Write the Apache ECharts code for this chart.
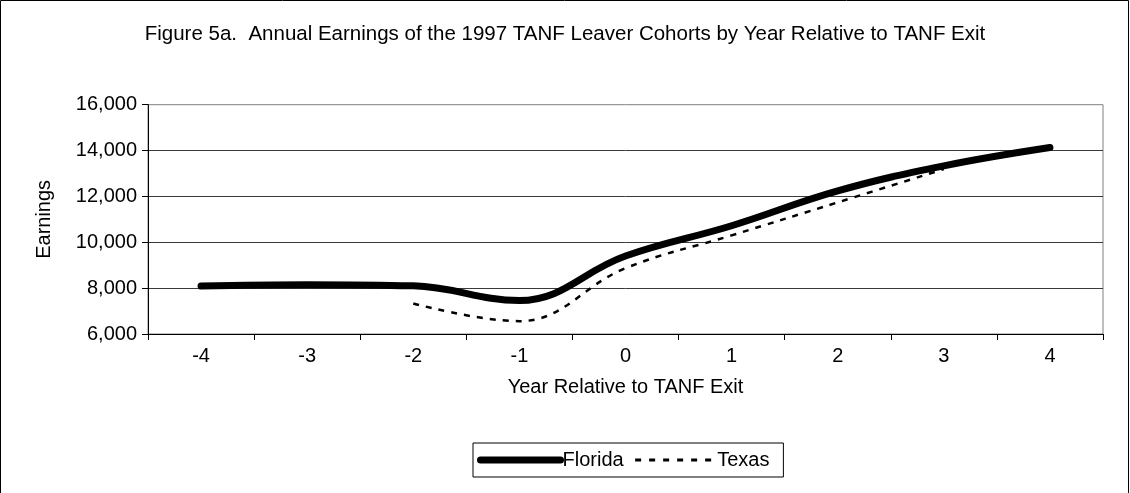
<!DOCTYPE html>
<html>
<head>
<meta charset="utf-8">
<script src="https://cdn.jsdelivr.net/npm/echarts@6/dist/echarts.min.js"></script>
<style>
  html, body { margin: 0; padding: 0; background: #fff; }
  #chart { width: 1130px; height: 493px; }
</style>
</head>
<body>
<div id="chart"></div>
<script>
//数据
var years = ['-4', '-3', '-2', '-1', '0', '1', '2', '3', '4'];
var florida = [8090, 8150, 8100, 7460, 9400, 10720, 12240, 13330, 14130];
var texas = [null, null, 7330, 6560, 8870, 10300, 11740, 13190, null];
var yTicks = [6000, 8000, 10000, 12000, 14000, 16000];

var font = 'Arial, "Liberation Sans", sans-serif';
var fs = 20;

var chart = echarts.init(document.getElementById('chart'));
var option = {
    backgroundColor: '#fff',
    animation: false,
    textStyle: { fontFamily: font, color: '#000' },
    title: {
        text: 'Figure 5a.  Annual Earnings of the 1997 TANF Leaver Cohorts by Year Relative to TANF Exit',
        left: 'center',
        top: 19,
        textStyle: { fontSize: 20.5, fontWeight: 'normal', color: '#000', fontFamily: font }
    },
    graphic: [{
        type: 'rect',
        shape: { x: 0.5, y: 0.5, width: 1128, height: 520 },
        style: { fill: 'none', stroke: '#000', lineWidth: 1 },
        silent: true
    }],
    legend: {
        left: 473,
        top: 443,
        padding: [7, 14, 7, 4],
        itemGap: 10,
        itemWidth: 80,
        itemHeight: 21,
        borderColor: '#000',
        borderWidth: 1,
        itemStyle: { opacity: 0 },
        textStyle: { fontSize: fs, color: '#000', fontFamily: font, padding: [0, 0, 0, -3] },
        data: [
            { name: 'Florida', itemStyle: { opacity: 0 }, lineStyle: { width: 7, color: '#000', cap: 'round' } },
            { name: 'Texas', itemStyle: { opacity: 0 }, lineStyle: { width: 3, color: '#000', type: [6, 8] } }
        ]
    },
    grid: {
        left: 148,
        top: 104.7,
        right: 27,
        bottom: 159,
        show: true,
        borderColor: '#808080',
        borderWidth: 1
    },
    xAxis: {
        type: 'category',
        data: years,
        boundaryGap: true,
        name: 'Year Relative to TANF Exit',
        nameLocation: 'middle',
        nameGap: 43,
        nameTextStyle: { fontSize: fs, color: '#000' },
        axisLine: { lineStyle: { color: '#000', width: 1 } },
        axisTick: { show: true, length: 6, alignWithLabel: false, lineStyle: { color: '#000' } },
        axisLabel: { fontSize: fs, color: '#000', margin: 12 },
        splitLine: { show: false }
    },
    yAxis: {
        type: 'value',
        min: yTicks[0],
        max: yTicks[yTicks.length - 1],
        interval: 2000,
        name: 'Earnings',
        nameLocation: 'middle',
        nameGap: 94,
        nameTextStyle: { fontSize: fs, color: '#000' },
        axisLine: { show: true, lineStyle: { color: '#000', width: 1 } },
        axisTick: { show: true, length: 6, lineStyle: { color: '#000' } },
        axisLabel: {
            fontSize: fs,
            color: '#000',
            margin: 11,
            formatter: function (v) { return v.toLocaleString('en-US'); }
        },
        splitLine: { show: true, showMaxLine: false, lineStyle: { color: '#3a3a3a', width: 1 } }
    },
    series: [
        {
            name: 'Florida',
            type: 'line',
            data: florida,
            smooth: 0.4,
            symbol: 'none',
            lineStyle: { color: '#000', width: 7, cap: 'round', join: 'round' },
            z: 3
        },
        {
            name: 'Texas',
            type: 'line',
            data: texas,
            smooth: 0.4,
            symbol: 'none',
            connectNulls: false,
            lineStyle: { color: '#000', width: 2.5, type: [6, 7] },
            z: 2
        }
    ]
};
chart.setOption(option);
</script>
</body>
</html>
